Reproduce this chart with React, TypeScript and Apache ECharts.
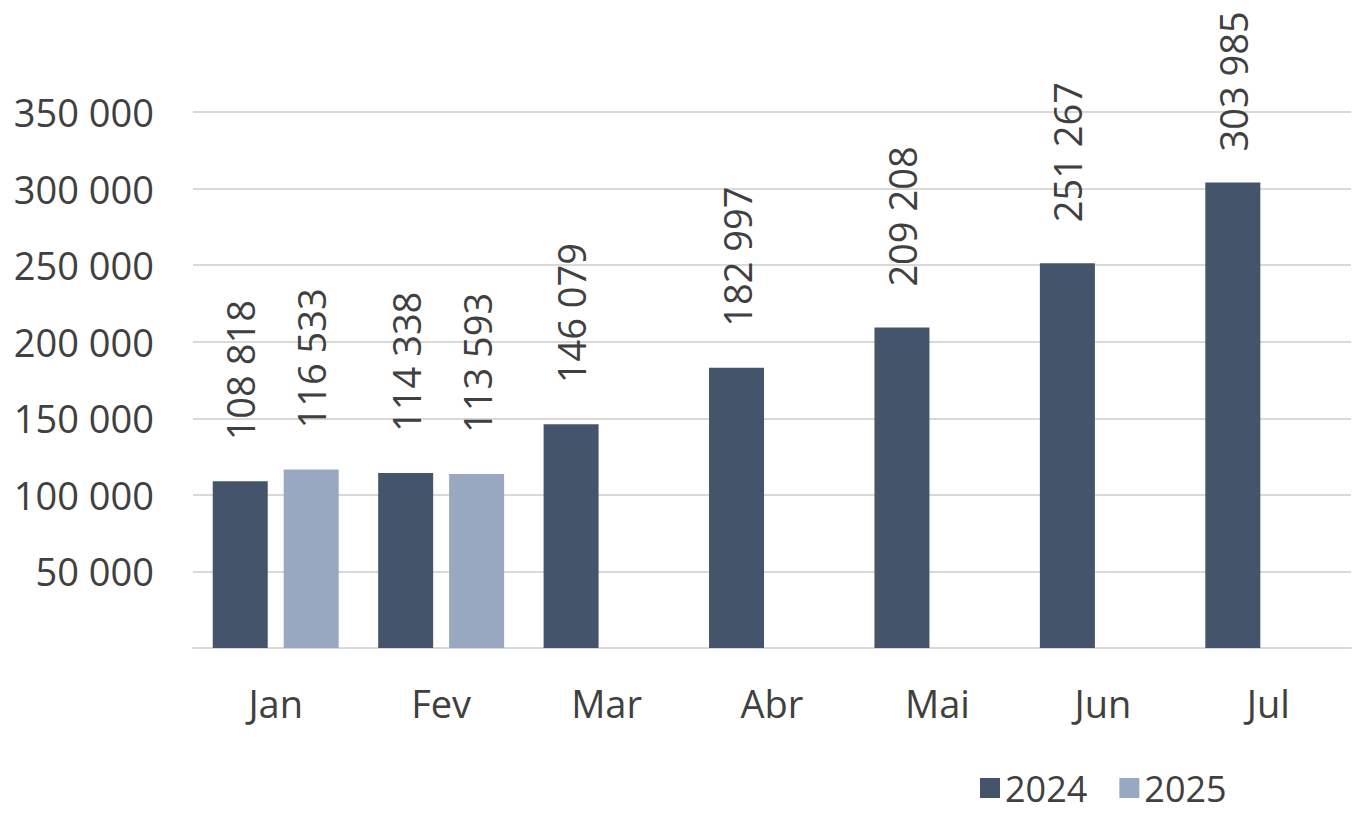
import React, { useEffect, useRef } from "react";
import * as echarts from "echarts";

const categories = ["Jan", "Fev", "Mar", "Abr", "Mai", "Jun", "Jul"];
const values2024 = [108818, 114338, 146079, 182997, 209208, 251267, 303985];
const values2025: (number | null)[] = [116533, 113593, null, null, null, null, null];
const seriesNames = ["2024", "2025"];

const FONT = "'Open Sans', 'Noto Sans', sans-serif";
const TEXT = "#404040";
const C2024 = "#44546A";
const C2025 = "#98A8C0";

const fmt = (v: number) => String(Math.round(v)).replace(/\B(?=(\d{3})+(?!\d))/g, " ");

export default function App() {
  const ref = useRef<HTMLDivElement>(null);
  useEffect(() => {
    if (!ref.current) return;
    const chart = echarts.init(ref.current, null, { renderer: "svg" });
    const label = {
      show: true,
      position: "top",
      rotate: 90,
      align: "left",
      verticalAlign: "middle",
      distance: 41,
      color: TEXT,
      fontSize: 38,
      fontFamily: FONT,
      formatter: (p: any) => fmt(p.value),
    };
    chart.setOption({
      animation: false,
      backgroundColor: "#ffffff",
      grid: { left: 193, right: 6, top: 112, bottom: 166 },
      legend: {
        left: 975,
        top: 759,
        itemWidth: 20,
        itemHeight: 20,
        itemGap: 32,
        icon: "rect",
        textStyle: {
          color: TEXT,
          fontSize: 36,
          lineHeight: 36,
          fontFamily: FONT,
          padding: [0, 0, 12, 0],
        },
        data: seriesNames,
      },
      xAxis: {
        type: "category",
        data: categories,
        axisLine: { lineStyle: { color: "#d9d9d9", width: 2 } },
        axisTick: { show: false },
        axisLabel: { color: TEXT, fontSize: 38, fontFamily: FONT, margin: 36 },
      },
      yAxis: {
        type: "value",
        min: 0,
        max: 350000,
        interval: 50000,
        axisLine: { show: false },
        axisTick: { show: false },
        splitLine: { lineStyle: { color: "#d9d9d9", width: 2 } },
        axisLabel: {
          color: TEXT,
          fontSize: 38,
          fontFamily: FONT,
          margin: 39,
          showMinLabel: false,
          formatter: (v: number) => (v === 0 ? "" : fmt(v)),
        },
      },
      series: [
        {
          name: seriesNames[0],
          type: "bar",
          data: values2024.map((v, i) =>
            i === values2024.length - 1 ? { value: v, label: { distance: 31 } } : v
          ),
          itemStyle: { color: C2024 },
          barWidth: 55,
          barGap: "29%",
          label,
          z: 2,
        },
        {
          name: seriesNames[1],
          type: "bar",
          data: values2025,
          itemStyle: { color: C2025 },
          barWidth: 55,
          barGap: "29%",
          label,
          z: 2,
        },
      ],
    });
    return () => chart.dispose();
  }, []);
  return (
    <div
      ref={ref}
      style={{ position: "absolute", left: 0, top: 0, width: 1357, height: 814 }}
    />
  );
}
